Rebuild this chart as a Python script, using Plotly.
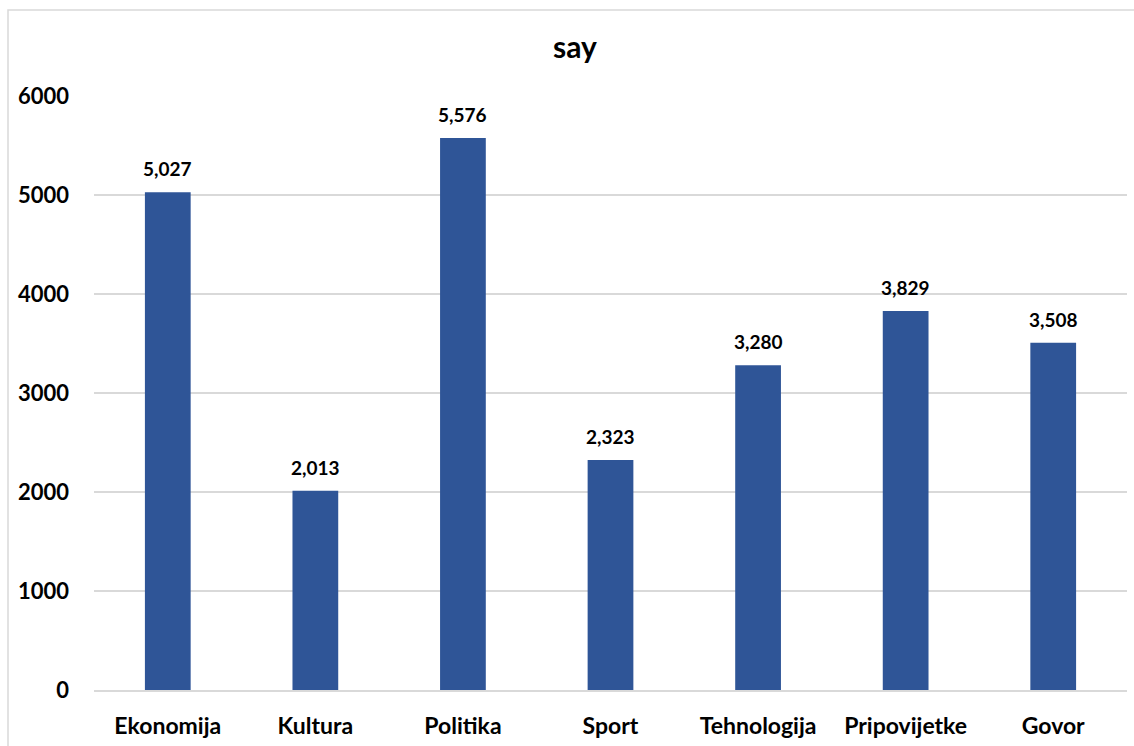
import plotly.graph_objects as go

categories = ["Ekonomija", "Kultura", "Politika", "Sport", "Tehnologija", "Pripovijetke", "Govor"]
values = [5027, 2013, 5576, 2323, 3280, 3829, 3508]
y_ticks = [0, 1000, 2000, 3000, 4000, 5000, 6000]

FONT = "Lato, 'Open Sans', sans-serif"
BAR_COLOR = "#2F5597"
GRID_COLOR = "#D9D9D9"

fig = go.Figure(
    go.Bar(
        x=categories,
        y=values,
        marker=dict(color=BAR_COLOR, line=dict(width=0)),
        hoverinfo="x+y",
    )
)

# Value labels above each bar
for cat, val in zip(categories, values):
    fig.add_annotation(
        x=cat,
        y=val,
        text=f"{val:,}",
        showarrow=False,
        yanchor="bottom",
        yshift=10,
        font=dict(family=FONT, size=19, color="#000000", weight="bold"),
    )

fig.update_layout(
    width=1134,
    height=746,
    margin=dict(l=94, r=7, t=96, b=56),
    paper_bgcolor="#FFFFFF",
    plot_bgcolor="#FFFFFF",
    bargap=0.69,
    showlegend=False,
    title=dict(
        text="<b>say</b>",
        font=dict(family=FONT, size=30, color="#000000"),
        x=0.507,
        xref="container",
        xanchor="center",
        y=1 - 47 / 746,
        yref="container",
        yanchor="middle",
    ),
    font=dict(family=FONT, color="#000000"),
    shapes=[
        dict(
            type="rect",
            xref="paper",
            yref="paper",
            x0=(8 - 94) / 1033,
            x1=1.05,
            y0=-0.2,
            y1=(690 - 10) / 594,
            line=dict(color=GRID_COLOR, width=1.5),
            fillcolor="rgba(0,0,0,0)",
            layer="below",
        )
    ],
)

fig.update_xaxes(
    showgrid=False,
    showline=True,
    linecolor=GRID_COLOR,
    linewidth=1.5,
    ticks="",
    ticklabelstandoff=15,
    tickfont=dict(family=FONT, size=23, color="#000000", weight="bold"),
)

fig.update_yaxes(
    range=[0, 6000],
    tickvals=y_ticks,
    ticktext=[str(v) for v in y_ticks],
    showgrid=True,
    gridcolor=GRID_COLOR,
    gridwidth=1.5,
    zeroline=False,
    showline=False,
    ticks="",
    ticklabelstandoff=24,
    tickfont=dict(family=FONT, size=22, color="#000000", weight="bold"),
)

fig.write_html("out.html")
